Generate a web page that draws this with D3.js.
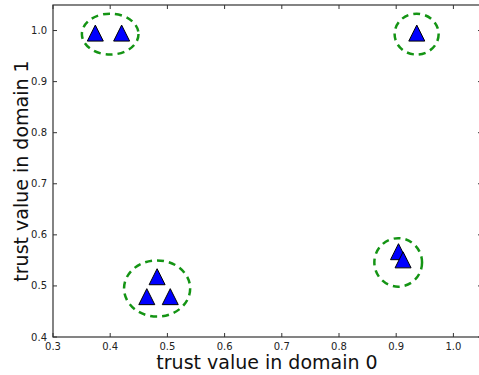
<!DOCTYPE html>
<html>
<head>
<meta charset="utf-8">
<script src="https://cdn.jsdelivr.net/npm/d3@7"></script>
<style>
  body { margin:0; background:#fff; }
  svg { display:block; font-family:"DejaVu Sans", sans-serif; }
</style>
</head>
<body>
<svg id="chart" width="479" height="375"></svg>
<script>
// data
var xTicks = [0.3, 0.4, 0.5, 0.6, 0.7, 0.8, 0.9, 1.0];
var yTicks = [0.4, 0.5, 0.6, 0.7, 0.8, 0.9, 1.0];
var pointX = [0.374, 0.420, 0.936, 0.482, 0.464, 0.505, 0.904, 0.912];
var pointY = [0.995, 0.995, 0.995, 0.518, 0.479, 0.479, 0.567, 0.551];
// cluster rings (centre and radii in data units)
var ringX  = [0.400, 0.9357, 0.482, 0.9035];
var ringY  = [0.993, 0.993, 0.495, 0.546];
var ringRx = [0.0495, 0.0385, 0.0578, 0.0417];
var ringRy = [0.040, 0.040, 0.055, 0.0475];

var svg = d3.select("#chart");
var margin = {left:53, top:5, right:-3, bottom:38};
var W = 479, H = 375;

var x = d3.scaleLinear().domain([0.3, 1.05]).range([margin.left, W - margin.right]);
var y = d3.scaleLinear().domain([0.4, 1.05]).range([H - margin.bottom, margin.top]);

var AXIS_COLOR = "#333";
var TICK = 4;

// ---- frame ----
svg.append("rect")
	.attr("x", x(0.3))
	.attr("y", y(1.05))
	.attr("width", x(1.05) - x(0.3))
	.attr("height", y(0.4) - y(1.05))
	.style("fill", "none")
	.style("stroke", AXIS_COLOR)
	.style("stroke-width", 1.2);

// ---- ticks (inside, on all four sides) ----
var g = svg.append("g").attr("id", "ticks");
xTicks.forEach(function(t){
	g.append("line").attr("x1", x(t)).attr("x2", x(t)).attr("y1", y(0.4)).attr("y2", y(0.4) - TICK)
		.style("stroke", AXIS_COLOR);
	g.append("line").attr("x1", x(t)).attr("x2", x(t)).attr("y1", y(1.05)).attr("y2", y(1.05) + TICK)
		.style("stroke", AXIS_COLOR);
	g.append("text")
		.text(d3.format(".1f")(t))
		.attr("x", x(t))
		.attr("y", y(0.4) + 13)
		.style("font-size", "10px")
		.style("fill", "#222")
		.style("text-anchor", "middle");
});
yTicks.forEach(function(t){
	g.append("line").attr("x1", x(0.3)).attr("x2", x(0.3) + TICK).attr("y1", y(t)).attr("y2", y(t))
		.style("stroke", AXIS_COLOR);
	g.append("line").attr("x1", x(1.05)).attr("x2", x(1.05) - TICK).attr("y1", y(t)).attr("y2", y(t))
		.style("stroke", AXIS_COLOR);
	g.append("text")
		.text(d3.format(".1f")(t))
		.attr("x", x(0.3) - 6)
		.attr("y", y(t) + 3.5)
		.style("font-size", "10px")
		.style("fill", "#222")
		.style("text-anchor", "end");
});

// ---- rings ----
ringX.forEach(function(cx, i){
	svg.append("ellipse")
		.attr("cx", x(cx))
		.attr("cy", y(ringY[i]))
		.attr("rx", x(cx + ringRx[i]) - x(cx))
		.attr("ry", y(ringY[i]) - y(ringY[i] + ringRy[i]))
		.style("fill", "none")
		.style("stroke", "#149414")
		.style("stroke-width", 2.5)
		.style("stroke-dasharray", "7,5");
});

// ---- triangles ----
var S = 8;
pointX.forEach(function(px, i){
	var cx = x(px), cy = y(pointY[i]);
	svg.append("path")
		.attr("d", "M" + cx + "," + (cy - S) + "L" + (cx - S) + "," + (cy + S) + "L" + (cx + S) + "," + (cy + S) + "Z")
		.style("fill", "#0000ff")
		.style("stroke", "#000")
		.style("stroke-width", 1);
});

// ---- axis labels ----
svg.append("text")
	.text("trust value in domain 0")
	.attr("x", 267)
	.attr("y", 368.5)
	.style("font-size", "19px")
	.style("fill", "#111")
	.style("text-anchor", "middle");

svg.append("text")
	.text("trust value in domain 1")
	.attr("transform", "translate(28," + ((y(0.4) + y(1.05)) / 2) + ") rotate(-90)")
	.style("font-size", "19px")
	.style("fill", "#111")
	.style("text-anchor", "middle");
</script>
</body>
</html>
